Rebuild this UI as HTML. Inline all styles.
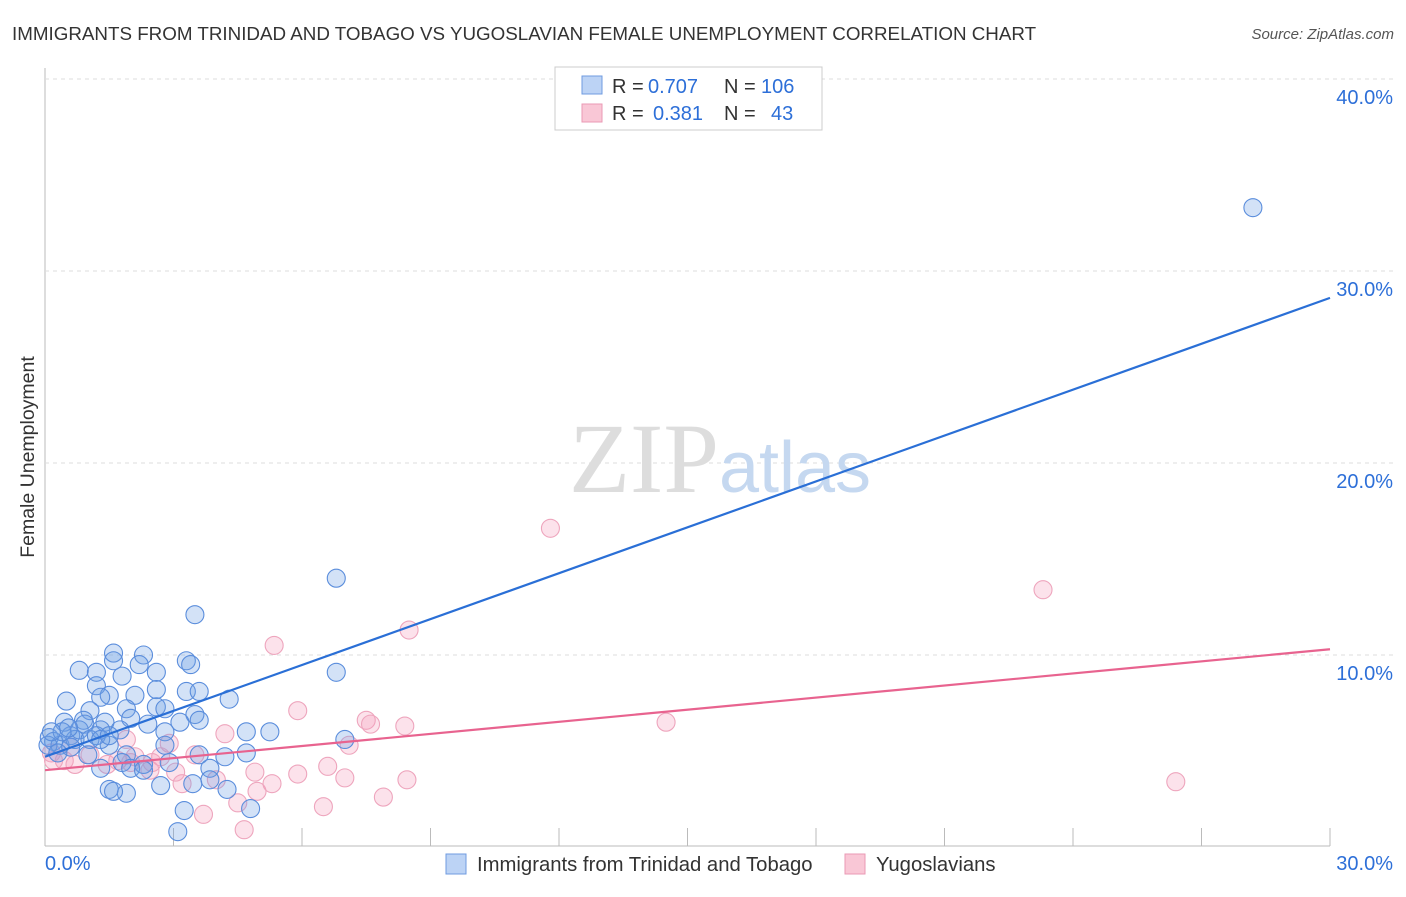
<!DOCTYPE html>
<html><head><meta charset="utf-8"><style>
body{margin:0;background:#fff;font-family:"Liberation Sans",sans-serif;}
</style></head><body>
<svg width="1406" height="892" xmlns="http://www.w3.org/2000/svg">
<text x="12" y="40" font-size="18.8" fill="#333">IMMIGRANTS FROM TRINIDAD AND TOBAGO VS YUGOSLAVIAN FEMALE UNEMPLOYMENT CORRELATION CHART</text>
<text x="1394" y="39" font-size="15" fill="#555" text-anchor="end" font-style="italic">Source: ZipAtlas.com</text>
<text x="34" y="457" font-size="19.5" fill="#333" text-anchor="middle" transform="rotate(-90 34 457)">Female Unemployment</text>
<g id="grid"></g>
<text x="720" y="492" font-size="100" fill="#ddd" text-anchor="middle" font-family="Liberation Serif">ZIP<tspan fill="#c5d8f0" font-family="Liberation Sans" font-size="72">atlas</tspan></text>
<g id="pts"></g>
<g id="lines"></g>
<g>
<rect x="555" y="67" width="267" height="63" fill="#fff" stroke="#ccc"/>
<rect x="582" y="76" width="20" height="18" fill="#bcd3f5" stroke="#6f9be0"/>
<rect x="582" y="104" width="20" height="18" fill="#f9c7d6" stroke="#ea9ab4"/>
<text y="93" font-size="20" fill="#333"><tspan x="612">R =</tspan><tspan x="648" fill="#2d6fd8">0.707</tspan><tspan x="724">N =</tspan><tspan x="761" fill="#2d6fd8">106</tspan></text>
<text y="120" font-size="20" fill="#333"><tspan x="612">R =</tspan><tspan x="653" fill="#2d6fd8">0.381</tspan><tspan x="724">N =</tspan><tspan x="771" fill="#2d6fd8">43</tspan></text>
</g>
<g>
<rect x="446" y="854" width="20" height="20" fill="#bcd3f5" stroke="#6f9be0"/>
<text x="477" y="871" font-size="20.3" fill="#333">Immigrants from Trinidad and Tobago</text>
<rect x="845" y="854" width="20" height="20" fill="#f9c7d6" stroke="#ea9ab4"/>
<text x="876" y="871" font-size="20.3" fill="#333">Yugoslavians</text>
</g>
</svg>
<script>
const yTicks=[10,20,30,40];
const yTickLabels=["10.0%","20.0%","30.0%","40.0%"];
const xTickLabels=["0.0%","30.0%"];
const blueX=[28.2,6.8,3.5,6.8,5.25,7.0,1.6,2.3,3.3,3.4,0.8,1.2,1.6,2.2,2.6,1.8,1.2,2.6,3.3,3.6,1.5,2.1,4.3,0.5,1.3,2.6,2.8,1.9,1.05,3.5,3.6,3.15,2.0,2.4,0.45,0.9,1.4,1.75,1.3,2.8,4.7,2.8,3.6,4.2,4.7,1.5,1.9,1.8,2.9,2.3,1.3,2.0,3.85,2.3,3.85,3.45,2.7,1.5,1.9,1.6,4.25,3.25,4.8,3.1,0.1,0.2,0.35,0.07,0.6,0.7,0.8,0.93,0.4,0.6,1.05,1.2,0.3,1.0,0.55,1.3,1.5,0.15];
const blueY=[33.3,14.0,12.1,9.1,6.0,5.6,10.1,10.0,9.7,9.5,9.2,9.1,9.7,9.5,9.1,8.9,8.4,8.2,8.1,8.1,7.9,7.9,7.7,7.6,7.8,7.3,7.2,7.2,7.1,6.9,6.6,6.5,6.7,6.4,6.5,6.6,6.5,6.1,6.1,6.0,6.0,5.3,4.8,4.7,4.9,5.3,4.8,4.4,4.4,4.3,4.1,4.1,4.1,4.0,3.5,3.3,3.2,3.0,2.8,2.9,3.0,1.9,2.0,0.8,5.7,5.5,5.3,5.3,5.8,5.6,6.1,6.4,6.0,5.2,5.6,5.8,4.9,4.8,6.2,5.6,5.8,6.0];
const pinkX=[11.8,23.3,8.5,5.35,5.9,7.5,7.6,8.4,14.5,7.1,26.4,8.45,7.9,6.5,7.0,6.6,5.9,4.9,4.95,5.3,4.5,4.65,3.7,3.2,3.05,3.5,4.0,4.2,2.9,2.7,2.45,2.1,1.9,1.45,1.05,0.45,0.15,0.6,1.7,2.5,2.0,0.7,0.2];
const pinkY=[16.6,13.4,11.3,10.5,7.1,6.6,6.4,6.3,6.5,5.3,3.4,3.5,2.6,2.1,3.6,4.2,3.8,3.9,2.9,3.3,2.3,0.9,1.7,3.3,3.9,4.8,3.5,5.9,5.4,4.7,4.0,4.7,5.6,4.3,4.8,4.5,4.9,5.2,4.5,4.4,4.4,4.3,4.5];
const blueLine=[4.7,28.6];
const pinkLine=[4.0,10.3];
const NS="http://www.w3.org/2000/svg";
const X=v=>45+v/30*1285, Y=v=>847-v*19.2;
function mk(t,a,p){const e=document.createElementNS(NS,t);for(const k in a)e.setAttribute(k,a[k]);p.appendChild(e);return e;}
const g=document.getElementById('grid');
mk('line',{x1:45,y1:68,x2:45,y2:846,stroke:'#bbb'},g);
mk('line',{x1:45,y1:846,x2:1330,y2:846,stroke:'#bbb'},g);
yTicks.forEach((t,i)=>{
 const l=mk('line',{x1:45,y1:Y(t),x2:1394,y2:Y(t),stroke:'#ddd','stroke-dasharray':'4,4'},g);
 
 
 const tx=mk('text',{x:1393,y:Y(t)+25,'font-size':20,fill:'#2d6fd8','text-anchor':'end'},g);
 tx.textContent=yTickLabels[i];
 
 
});
for(let i=1;i<=10;i++){const x=X(i*3);mk('line',{x1:x,y1:828,x2:x,y2:846,stroke:'#bbb'},g);}
const a=mk('text',{x:45,y:870,'font-size':20,fill:'#2d6fd8'},g);a.textContent=xTickLabels[0];


const b=mk('text',{x:1393,y:870,'font-size':20,fill:'#2d6fd8','text-anchor':'end'},g);b.textContent=xTickLabels[1];


const p=document.getElementById('pts');
pinkX.forEach((v,i)=>{const c=mk('circle',{cx:X(v),cy:Y(pinkY[i]),r:9,fill:'rgba(244,160,188,0.3)',stroke:'#eea5bd','stroke-width':1.1},p);
 
 });
blueX.forEach((v,i)=>{const c=mk('circle',{cx:X(v),cy:Y(blueY[i]),r:9,fill:'rgba(110,160,230,0.3)',stroke:'#5a8ddc','stroke-width':1.1},p);
 
 });
const L=document.getElementById('lines');
const bl=mk('line',{x1:X(0),y1:Y(blueLine[0]),x2:X(30),y2:Y(blueLine[1]),stroke:'#2a6fd6','stroke-width':2.2},L);


const pl=mk('line',{x1:X(0),y1:Y(pinkLine[0]),x2:X(30),y2:Y(pinkLine[1]),stroke:'#e8638f','stroke-width':2.2},L);


</script>
</body></html>
